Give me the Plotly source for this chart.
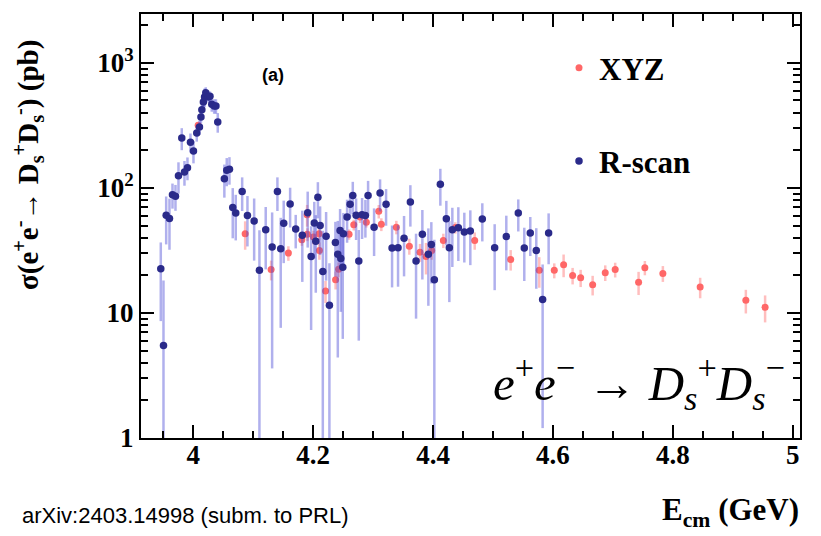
import plotly.graph_objects as go

# ---------------- data ----------------
# R-scan (blue)
rscan_E = [3.946, 3.9505, 3.955, 3.9605, 3.9655, 3.9705, 3.9755, 3.981, 3.9855, 3.9905,
           3.9955, 4.0005, 4.006, 4.0105, 4.013, 4.0145, 4.017, 4.019, 4.021, 4.0255,
           4.028, 4.031, 4.035, 4.038, 4.041, 4.052, 4.056, 4.0605, 4.066, 4.071,
           4.0817, 4.0905, 4.1017, 4.1105, 4.121, 4.1317, 4.1405, 4.146, 4.151, 4.1617,
           4.171, 4.182, 4.191, 4.1967, 4.202, 4.2045, 4.208, 4.2117, 4.2162, 4.2217,
           4.2272, 4.2372, 4.2412, 4.245, 4.2462, 4.2495, 4.2505, 4.2567, 4.2617, 4.2662,
           4.2717, 4.2762, 4.2817, 4.2872, 4.2917, 4.3017, 4.3117, 4.3217, 4.3317, 4.3417,
           4.3517, 4.3622, 4.3717, 4.3822, 4.3922, 4.3972, 4.4022, 4.4122, 4.4222, 4.4272,
           4.4322, 4.4422, 4.4522, 4.4622, 4.4822, 4.5028, 4.5222, 4.5422, 4.5522, 4.5622,
           4.5722, 4.5828, 4.5928]
rscan_sigma = [22.6, 5.5, 60.3, 57.0, 88.2, 85.5, 125, 250, 134, 145,
               232, 197, 274, 306, 368, 422, 486, 532, 577, 532,
               540, 466, 451, 451, 336, 118.5, 138, 141, 69.5, 63,
               93.3, 60, 54.2, 21.9, 46.3, 33.6, 93.3, 32.6, 52, 74.2,
               46.8, 41.7, 63.3, 28.3, 52.3, 37.5, 84, 50.1, 21.4, 41.1,
               11.5, 36.5, 29.4, 45.7, 27.2, 23.2, 43, 58.4, 73.8, 86.7,
               60.3, 26, 61, 60, 86.7, 48.5, 90.8, 73.8, 33, 33.2,
               39.6, 77, 26, 42.5, 29.4, 35.2, 18.4, 107, 56.7, 33.2,
               46.3, 48, 44.3, 45.1, 56.3, 33.2, 40.9, 62.8, 33, 43.5,
               31.6, 12.8, 43.5]
rscan_err = [14, 12.7, 25, 25, 20, 20, 35, 50, 30, 30,
             40, 40, 40, 40, 40, 40, 50, 90, 60, 50,
             50, 60, 60, 60, 60, 35, 35, 35, 30, 25,
             28, 26, 28, 24, 24, 30, 28, 25, 27, 26,
             14, 24, 30, 21, 25, 23, 27, 21, 24, 23,
             13.4, 17, 25, 22, 17, 17, 20, 22, 16, 25,
             22, 20, 22, 20, 27, 20, 26, 24, 17, 17,
             20, 28, 17, 24, 18, 18, 20, 35, 22, 21,
             23, 22, 19, 21, 19, 18, 19, 18, 15, 15,
             16, 11.6, 19]

# XYZ (red)
xyz_E = [4.0083, 4.0867, 4.13, 4.1588, 4.1812, 4.19, 4.1905, 4.2005, 4.21, 4.2105,
         4.2208, 4.2375, 4.2425, 4.26, 4.2678, 4.2783, 4.2888, 4.3095, 4.3138, 4.3388,
         4.3605, 4.3783, 4.3883, 4.3978, 4.4172, 4.4372, 4.4695, 4.5295, 4.5772, 4.6022,
         4.6178, 4.6328, 4.6462, 4.6662, 4.6872, 4.7038, 4.7428, 4.7533, 4.7833, 4.8455,
         4.9217, 4.9538]
xyz_sigma = [316, 43.0, 22.2, 30.1, 38.4, 61.0, 42.5, 40.4, 43.0, 31.6,
             15.0, 18.4, 22.3, 42.5, 50.6, 58.4, 53.2, 64.9, 51.1, 48.5,
             34.2, 30.6, 28.3, 31.6, 38.0, 48.1, 38.0, 26.8, 21.9, 21.9,
             24.3, 19.9, 19.1, 16.8, 21.0, 22.2, 17.6, 23.0, 20.7, 16.1,
             12.6, 11.1]
xyz_err = [20, 11, 4, 4, 4, 12, 5, 5, 5, 5,
           3, 3, 3, 4, 5, 6, 5, 8, 6, 6,
           5, 5, 8, 5, 5, 5, 6, 5, 6, 3,
           5, 3, 3, 3, 3, 3, 3.7, 3, 3, 3,
           2.7, 2.7]

y_tickvals = [1, 10, 100, 1000]
y_ticktext = ["1", "10", "10<sup>2</sup>", "10<sup>3</sup>"]
x_tickvals = [4.0, 4.2, 4.4, 4.6, 4.8, 5.0]
x_ticktext = ["4", "4.2", "4.4", "4.6", "4.8", "5"]

SERIF = "Liberation Serif, Times New Roman, serif"
SANS = "Liberation Sans, Arial, sans-serif"

W, H = 821, 536
L, R, T, B = 141, 21, 14, 98
PW, PH = W - L - R, H - T - B


def px(xp):
    return (xp - L) / PW


def py(yp):
    return 1 - (yp - T) / PH


fig = go.Figure()

fig.add_trace(go.Scatter(
    x=xyz_E, y=xyz_sigma, mode="markers", name="<b>XYZ</b>",
    legendgroup="xyz",
    marker=dict(color="#ff6767", size=7),
    error_y=dict(type="data", array=xyz_err, color="rgba(255,110,110,0.45)",
                 thickness=2.5, width=0),
))
fig.add_trace(go.Scatter(
    x=rscan_E, y=rscan_sigma, mode="markers", name="<b>R-scan</b>",
    legendgroup="rscan",
    marker=dict(color="#2a2a8a", size=7.5),
    error_y=dict(type="data", array=rscan_err, color="rgba(80,80,215,0.45)",
                 thickness=2.5, width=0),
))

minor_y = [m * d for d in (1, 10, 100, 1000) for m in range(2, 10)]

fig.update_layout(
    width=W, height=H,
    margin=dict(l=L, r=R, t=T, b=B),
    plot_bgcolor="white", paper_bgcolor="white",
    showlegend=True,
    legend=dict(x=px(559), y=py(41), xanchor="left", yanchor="top",
                font=dict(family=SERIF, size=31, color="black"),
                tracegroupgap=50, itemsizing="trace",
                bgcolor="rgba(0,0,0,0)"),
    xaxis=dict(
        range=[3.913, 5.012], showgrid=False, zeroline=False,
        showline=True, linecolor="black", linewidth=2, mirror="allticks",
        ticks="inside", ticklen=13, tickwidth=2, tickcolor="black",
        tickmode="array", tickvals=x_tickvals, ticktext=x_ticktext,
        ticklabelstandoff=-8,
        tickfont=dict(family=SERIF, size=27, color="black", weight="bold"),
        minor=dict(dtick=0.05, tick0=4.0, ticks="inside", ticklen=7,
                   tickwidth=1.5, tickcolor="black", showgrid=False),
    ),
    yaxis=dict(
        type="log", range=[0, 3.39], showgrid=False, zeroline=False,
        showline=True, linecolor="black", linewidth=2, mirror="allticks",
        ticks="inside", ticklen=13, tickwidth=2, tickcolor="black",
        tickmode="array", tickvals=y_tickvals, ticktext=y_ticktext,
        tickfont=dict(family=SERIF, size=27, color="black", weight="bold"),
        minor=dict(tickmode="array", tickvals=minor_y, ticks="inside",
                   ticklen=7, tickwidth=1.5, tickcolor="black", showgrid=False),
    ),
    annotations=[
        dict(text="<b>(a)</b>", x=px(273), y=py(75), xref="paper", yref="paper",
             xanchor="center", yanchor="middle",
             showarrow=False, font=dict(family=SANS, size=18, color="black")),
        dict(text="<i>e</i><sup>+</sup><i>e</i><sup>\u2212</sup> \u2192 <i>D</i><sub><i>s</i></sub><sup>+</sup><i>D</i><sub><i>s</i></sub><sup>\u2212</sup>",
             x=px(787), y=py(382), xref="paper", yref="paper", xanchor="right", yanchor="middle",
             showarrow=False, font=dict(family=SERIF, size=49, color="black")),
        dict(text="<b>E<sub>cm</sub> (GeV)</b>", x=px(801), y=py(512), xref="paper", yref="paper",
             xanchor="right", yanchor="middle", showarrow=False,
             font=dict(family=SERIF, size=31, color="black")),
        dict(text="arXiv:2403.14998 (subm. to PRL)", x=px(20), y=py(515), xref="paper", yref="paper",
             xanchor="left", yanchor="middle",
             showarrow=False, font=dict(family=SANS, size=22, color="black")),
        dict(text="<b>\u03c3(e<sup>+</sup>e<sup>-</sup>\u2192 D<sub>s</sub><sup>+</sup>D<sub>s</sub><sup>-</sup>) (pb)</b>",
             x=px(28), y=py(165), xref="paper", yref="paper",
             xanchor="center", yanchor="middle", textangle=-90, showarrow=False,
             font=dict(family=SERIF, size=29, color="black")),
    ],
)

fig.write_html("out.html")
